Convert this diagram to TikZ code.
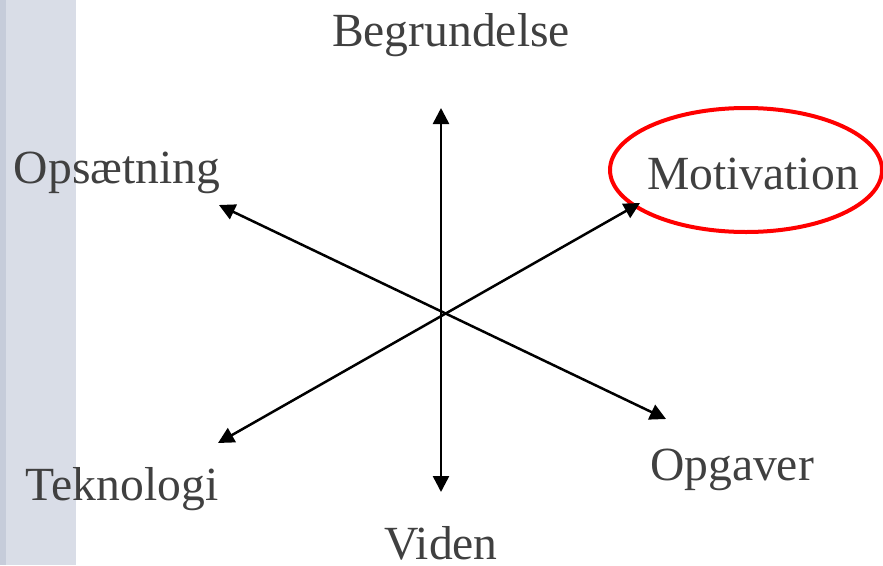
\documentclass[tikz,border=0pt]{standalone}
\usepackage{fontspec}
\setmainfont{Liberation Serif}
\usepackage{tikz}
\usetikzlibrary{arrows.meta, shapes.geometric}
\definecolor{bandL}{RGB}{217,221,231}
\definecolor{bandD}{RGB}{198,204,218}
\definecolor{ink}{RGB}{64,64,64}
\tikzset{
  word/.style  ={text=ink, inner sep=0pt, anchor=base,
                 font=\fontsize{47.6}{57}\selectfont},
  spoke/.style ={{Triangle[length=16pt,width=16pt]}-{Triangle[length=16pt,width=16pt]},
                 black, line width=2.5pt},
  ring/.style  ={draw=red, ellipse, line width=4pt,
                 minimum width=272pt, minimum height=124pt},
}

\begin{document}
\begin{tikzpicture}[x=1pt, y=-1pt]

% --- frame and side band ---
\useasboundingbox (0,0) rectangle (883,565);
\fill[bandL] (0,0) rectangle (76,565);
\fill[bandD] (0,0) rectangle (6,565);

% --- labels ---
\node[word] (beg) at (451, 46)  {Begrundelse};
\node[word] (ops) at (117,183)  {Opsætning};
\node[word] (mot) at (753,189)  {Motivation};
\node[word] (tek) at (122,500)  {Teknologi};
\node[word] (opg) at (732,480)  {Opgaver};
\node[word] (vid) at (441,559)  {Viden};

\node[ring] (hl) at (746,170) {};

% --- arrow ends ---
\coordinate (tipN)  at (441,108);
\coordinate (tipS)  at (441,492);
\coordinate (tipNW) at (219,205);
\coordinate (tipSE) at (666,419);
\coordinate (tipNE) at (640,203);
\coordinate (tipSW) at (218,443);

\draw[spoke] (tipS)  -- (tipN);
\draw[spoke] (tipSE) -- (tipNW);
\draw[spoke] (tipSW) -- (tipNE);

\end{tikzpicture}
\end{document}
